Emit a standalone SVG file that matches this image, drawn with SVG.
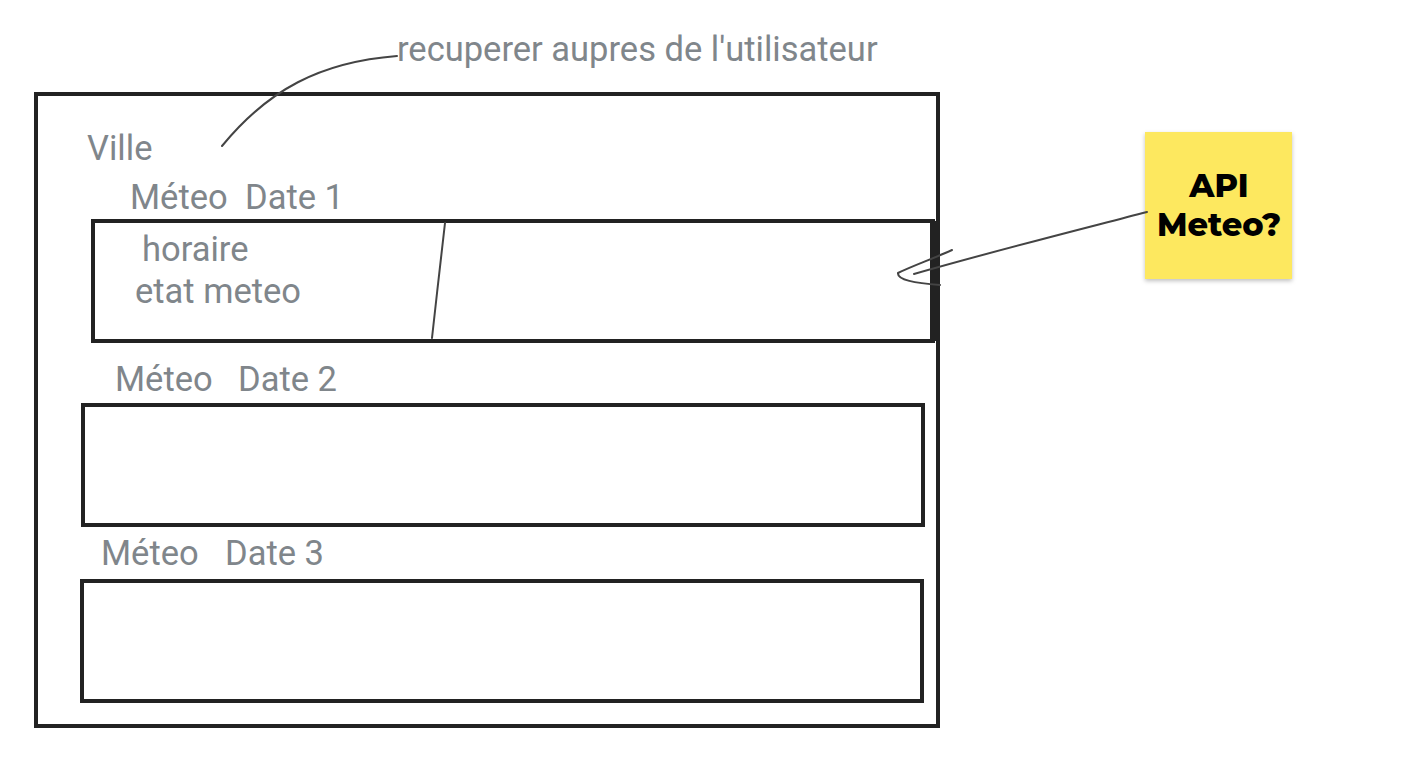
<svg xmlns="http://www.w3.org/2000/svg" width="1410" height="773" viewBox="0 0 1410 773">
<defs>
<style>
.t{font-family:Roboto,"Liberation Sans",sans-serif;font-size:34.5px;fill:#80868b}
.box{fill:none;stroke:#222;stroke-width:4}
.ln{fill:none;stroke:#444;stroke-width:2;stroke-linecap:round;stroke-linejoin:round}
.st{font-family:Montserrat,"Open Sans",Lato,sans-serif;font-weight:800;font-size:32px;fill:#000}
</style>
<filter id="sh" x="-10%" y="-10%" width="120%" height="125%"><feDropShadow dx="0" dy="2" stdDeviation="2" flood-color="#000" flood-opacity="0.25"/></filter>
</defs>
<rect width="1410" height="773" fill="#fff"/>
<g id="frame">
<rect class="box" x="36" y="94" width="902" height="632"/>
<text class="t" x="87" y="160">Ville</text>
</g>
<g id="date1">
<text class="t" y="209"><tspan x="130">Méteo</tspan><tspan x="245">Date 1</tspan></text>
<rect class="box" x="93" y="221" width="840" height="120"/>
<line x1="933" y1="221" x2="933" y2="341" stroke="#222" stroke-width="6"/>
<path class="ln" d="M445 223 C441 260 436 300 432 338"/>
<text class="t" x="142" y="261">horaire</text>
<text class="t" x="135" y="303">etat meteo</text>
</g>
<g id="date2">
<text class="t" y="391"><tspan x="115">Méteo</tspan><tspan x="238">Date 2</tspan></text>
<rect class="box" x="83" y="405" width="840" height="120"/>
</g>
<g id="date3">
<text class="t" y="565"><tspan x="101">Méteo</tspan><tspan x="225">Date 3</tspan></text>
<rect class="box" x="82" y="581" width="840" height="120"/>
</g>
<g id="user-note">
<text class="t" x="397" y="61">recuperer aupres de l'utilisateur</text>
</g>
<g id="api-sticky">
<rect x="1145" y="132" width="147" height="147" fill="#fde85f" filter="url(#sh)"/>
<text class="st" text-anchor="middle" x="1219" y="197">API</text>
<text class="st" text-anchor="middle" x="1219" y="236">Meteo?</text>
</g>
<g id="connectors">
<path class="ln" d="M397 56 C320 62 268 90 222 146"/>
<path class="ln" d="M1147 212 C1070 232 990 252 914 274"/>
<path class="ln" d="M952 250 C935 258 912 266 898 273 C897 280 915 283 940 285"/>
</g>
</svg>
